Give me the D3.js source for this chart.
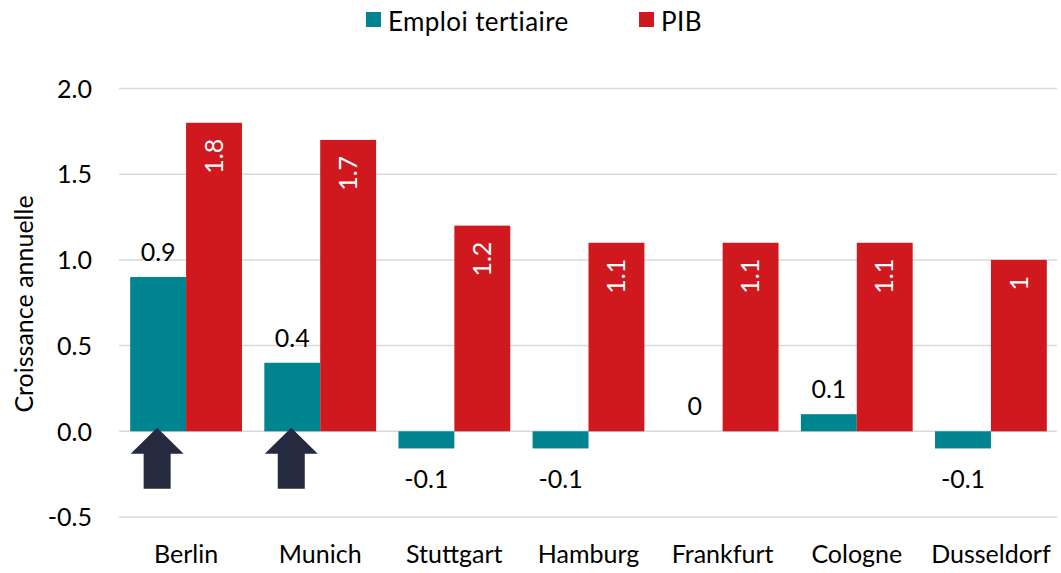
<!DOCTYPE html>
<html>
<head>
<meta charset="utf-8">
<script src="https://cdn.jsdelivr.net/npm/d3@7"></script>
<style>
  body { margin: 0; background: #fff; }
  text { font-family: Lato, "Open Sans", sans-serif; }
</style>
</head>
<body>
<div id="chart"></div>
<script>
var cities = ["Berlin", "Munich", "Stuttgart", "Hamburg", "Frankfurt", "Cologne", "Dusseldorf"];
var emploi = [0.9, 0.4, -0.1, -0.1, 0, 0.1, -0.1];
var pib = [1.8, 1.7, 1.2, 1.1, 1.1, 1.1, 1.0];
var emploiLabels = ["0.9", "0.4", "-0.1", "-0.1", "0", "0.1", "-0.1"];
var pibLabels = ["1.8", "1.7", "1.2", "1.1", "1.1", "1.1", "1"];
var yTicks = [-0.5, 0, 0.5, 1.0, 1.5, 2.0];
var yTickLabels = ["-0.5", "0.0", "0.5", "1.0", "1.5", "2.0"];
var arrowCities = ["Berlin", "Munich"];
var seriesNames = ["Emploi tertiaire", "PIB"];

var colTeal = "#008490";
var colRed = "#D0191F";
var colArrow = "#262A3F";
var fontSize = "25px";

var w = 1061, h = 573;
var svg = d3.select("#chart").append("svg:svg").attr("width", w).attr("height", h);

var x0 = d3.scaleBand().domain(cities).range([119, 1058]).paddingInner(1 / 6).paddingOuter(1 / 12);
var x1 = d3.scaleBand().domain(seriesNames).range([0, x0.bandwidth()]);
var y = d3.scaleLinear().domain([-0.5, 2.0]).range([517, 88.5]);

// grid
svg.append("g").selectAll("line").data(yTicks).enter().append("line")
    .attr("x1", 119).attr("x2", 1057)
    .attr("y1", function (d) { return y(d); }).attr("y2", function (d) { return y(d); })
    .style("stroke", "#d9d9d9").style("stroke-width", "1.5px");

// y axis labels
var yAxis = d3.axisLeft(y).tickValues(yTicks)
    .tickFormat(function (d, i) { return yTickLabels[i]; })
    .tickSize(0).tickPadding(0);
var gy = svg.append("g").attr("transform", "translate(92,0)").call(yAxis);
gy.select(".domain").remove();
gy.selectAll("text").style("font-size", fontSize).style("fill", "#000")
    .style("font-family", "Lato, sans-serif").attr("dy", "0.35em");

svg.append("text").attr("transform", "translate(33," + 304 + ") rotate(-90)")
    .attr("text-anchor", "middle").style("font-size", fontSize).style("fill", "#000")
    .text("Croissance annuelle");

// x axis labels
var xAxis = d3.axisBottom(x0).tickSize(0).tickPadding(0);
var gx = svg.append("g").attr("transform", "translate(0,544)").call(xAxis);
gx.select(".domain").remove();
gx.selectAll("text").style("font-size", fontSize).style("fill", "#000")
    .style("font-family", "Lato, sans-serif").attr("dy", "0.75em");

// bars
var rows = cities.map(function (c, i) {
    return { city: c, emploi: emploi[i], pib: pib[i], eLab: emploiLabels[i], pLab: pibLabels[i] };
});

var groups = svg.selectAll(".grp").data(rows).enter().append("g").attr("class", "grp")
    .attr("transform", function (d) { return "translate(" + x0(d.city) + ",0)"; });

groups.append("rect")
    .attr("x", x1("Emploi tertiaire")).attr("width", x1.bandwidth())
    .attr("y", function (d) { return y(Math.max(0, d.emploi)); })
    .attr("height", function (d) { return Math.abs(y(d.emploi) - y(0)); })
    .style("fill", colTeal);

groups.append("rect")
    .attr("x", x1("PIB")).attr("width", x1.bandwidth())
    .attr("y", function (d) { return y(Math.max(0, d.pib)); })
    .attr("height", function (d) { return Math.abs(y(d.pib) - y(0)); })
    .style("fill", colRed);

// labels emploi
groups.append("text")
    .attr("x", x1("Emploi tertiaire") + x1.bandwidth() / 2)
    .attr("y", function (d) {
        if (d.emploi < 0) return y(d.emploi) + 40;
        return y(d.emploi) - 16;
    })
    .attr("text-anchor", "middle").style("font-size", fontSize).style("fill", "#000")
    .text(function (d) { return d.eLab; });

// labels pib (rotated, inside end)
groups.append("text")
    .attr("transform", function (d) {
        return "translate(" + (x1("PIB") + x1.bandwidth() / 2) + "," + (y(d.pib) + 16) + ") rotate(-90)";
    })
    .attr("dy", "0.35em")
    .attr("text-anchor", "end").style("font-size", fontSize).style("fill", "#fff")
    .text(function (d) { return d.pLab; });

// arrows
var arrowPath = "M0,0 L26.5,26 L13.5,26 L13.5,61 L-13.5,61 L-13.5,26 L-26.5,26 Z";
svg.selectAll(".arrow").data(arrowCities).enter().append("path").attr("class", "arrow")
    .attr("d", arrowPath)
    .attr("transform", function (d) {
        return "translate(" + (x0(d) + x1("Emploi tertiaire") + x1.bandwidth() / 2 - 1) + "," + (y(0) - 3.5) + ")";
    })
    .style("fill", colArrow);

// legend
var legendData = [
    { name: seriesNames[0], color: colTeal, x: 366 },
    { name: seriesNames[1], color: colRed, x: 639 }
];
var legend = svg.append("g").attr("class", "legend");
var legendElts = legend.selectAll("g").data(legendData).enter().append("g")
    .attr("transform", function (d) { return "translate(" + d.x + ",12)"; });
legendElts.append("rect").attr("width", 15).attr("height", 15).style("fill", function (d) { return d.color; });
legendElts.append("text").attr("x", 22).attr("y", 18.5)
    .style("font-size", "26px").style("letter-spacing", "0.4px").style("fill", "#000")
    .text(function (d) { return d.name; });
</script>
</body>
</html>
